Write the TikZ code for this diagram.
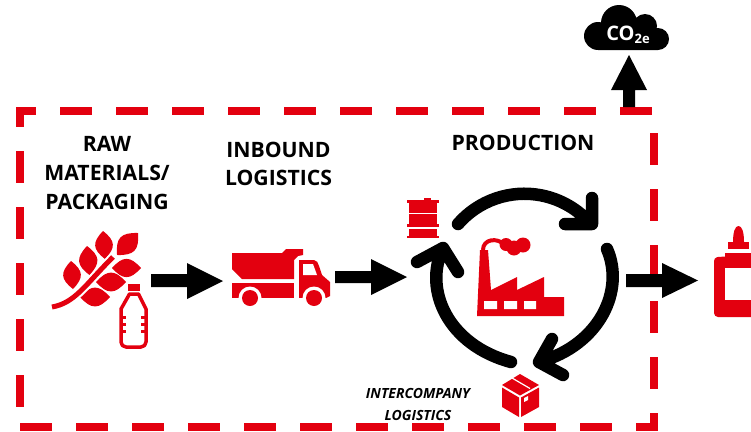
\documentclass[tikz,border=0pt]{standalone}
\usepackage{fontspec}
\setmainfont{Open Sans}
\definecolor{brand}{HTML}{E3000F}
\tikzset{
  frameline/.style={draw=brand,line width=8pt,dash pattern=on 32pt off 24pt},
  headline/.style={font=\fontsize{21.2}{24}\selectfont\bfseries,align=center,text=black,inner sep=0pt},
  subline/.style={font=\fontsize{14}{22}\selectfont\bfseries\itshape,align=center,text=black,inner sep=0pt},
  cyclearrow/.style={draw=black,line width=12.5pt,line cap=round,line join=round},
}
\newcommand{\leafshape}[2]{\fill[brand] (#1) to[bend left=48,looseness=1.45] (#2) to[bend left=48,looseness=1.45] (#1);}
\begin{document}
\begin{tikzpicture}[x=1pt,y=-1pt]
\useasboundingbox (0,0) rectangle (751,431);
% frame
\draw[frameline,dash phase=12pt] (16,111) -- (652,111);
\draw[frameline,dash phase=12pt] (20,107) -- (20,407);
\draw[frameline] (20,427) -- (658,427);
\draw[frameline] (654,133) -- (654,431);
% block arrows
\fill[black] (151,274) -- (187,274) -- (187,263) -- (223,281) -- (187,299) -- (187,287) -- (151,287) -- cycle;
\fill[black] (335,271) -- (371,271) -- (371,259) -- (407,277) -- (371,295) -- (371,283) -- (335,283) -- cycle;
\fill[black] (626,274) -- (662,274) -- (662,263) -- (698,280.5) -- (662,298) -- (662,287) -- (626,287) -- cycle;
\fill[black] (623,107) -- (623,90) -- (611,90) -- (629,55) -- (647,90) -- (635,90) -- (635,107) -- cycle;
% cloud
\fill[black] (598,36) circle[radius=14pt] (619,23) circle[radius=18pt] (645,26) circle[radius=12pt] (658,39) circle[radius=11pt] (598,30) rectangle (658,50);
\node[inner sep=0pt,text=white] (co2) at (628,35) {\fontsize{20}{22}\selectfont\bfseries CO\raisebox{-3.5pt}{\fontsize{13}{14}\selectfont 2e}};
% labels
\node[headline] (raw) at (107,173) {RAW\\[5pt]MATERIALS/\\[5pt]PACKAGING};
\node[headline] (inbound) at (278.5,164) {INBOUND\\[4pt]LOGISTICS};
\node[headline] (production) at (523,143) {PRODUCTION};
\node[subline] (inter) at (418,404.5) {INTERCOMPANY\\LOGISTICS};
% wheat
\leafshape{71,261}{73,289}
\leafshape{87,246}{89.5,275}
\leafshape{103,231}{105,259}
\leafshape{117,255}{138,233}
\leafshape{112,268}{141,268}
\leafshape{96,282}{126,282}
\leafshape{80,297}{110,297}
\draw[white,line width=9pt] (60,304) .. controls (78,299) and (88,282) .. (116,254);
\draw[brand,line width=5pt] (52,307) .. controls (75,303) and (85,285) .. (113,257);
% plastic bottle
\fill[brand] (128,284) rectangle (140,291);
\draw[brand,line width=3.5pt,line join=round,fill=white] (129.5,294) -- (138.5,294) -- (146,309) -- (146,342) arc[start angle=0,end angle=-90,radius=5pt] -- (126,347) arc[start angle=270,end angle=180,radius=5pt] -- (121,309) -- cycle;
\foreach \yy in {317,324,331}{\draw[brand,line width=3pt] (121,\yy) -- (126,\yy) (141,\yy) -- (146,\yy);}
% truck
\fill[brand] (232,253) -- (282,253) -- (286,249) -- (303,249) -- (303,255) -- (298,256) -- (294,260) -- (294,279) -- (242,279) -- (232,269) -- cycle;
\fill[brand] (232,283) rectangle (294,298);
\fill[brand] (299,260) -- (314,260) .. controls (317,260) and (318,263) .. (319,266) -- (322,275) -- (330,282) -- (330,296) -- (326,298) -- (299,298) -- cycle;
\fill[white] (303,264) -- (313,264) -- (317,275) -- (303,275) -- cycle;
\fill[white] (250,298) circle[radius=11.5pt] (314,298) circle[radius=11.5pt];
\fill[white] (232,298) rectangle (340,305);
\fill[brand] (250,298) circle[radius=8pt] (314,298) circle[radius=8pt];
% barrel
\fill[brand] (424,198) rectangle (431,201);
\fill[brand] (407,200) rectangle (439,203);
\fill[brand] (409,203) rectangle (437,212.5);
\fill[brand] (409,213.8) rectangle (437,224);
\fill[brand] (407,224) rectangle (439,226.5);
\fill[brand] (409,228.5) rectangle (437,236);
\fill[brand] (407,236) rectangle (439,238);
% cycle arrows
\draw[cyclearrow] (458,224) arc[start angle=139,end angle=41,radius=88pt] -- (592,224) (592,198) -- (592,224) -- (565,224);
\draw[cyclearrow] (607,249) .. controls (625,290) and (600,345) .. (539,362) (552,339) -- (539,362) -- (563,375);
\draw[cyclearrow] (511,362) .. controls (448,345) and (423,290) .. (443,248) (458,272) -- (443,248) -- (417,262);
% factory
\fill[brand] (477,316) -- (480,250) -- (488,250) -- (491,290) -- (517,277) -- (517,290) -- (544,277) -- (544,297) -- (564,297) -- (564,316) -- cycle;
\fill[white] (484,301) rectangle (497,309) (504,301) rectangle (517,309) (524,301) rectangle (536,309);
\fill[brand] (506,244.5) circle[radius=6.5pt] (523,245) circle[radius=7.5pt] (514,248) circle[radius=7.5pt];
\draw[brand,line width=4pt] (483,250) .. controls (483,239) and (497,237) .. (505,245);
% box
\fill[brand] (520,374) -- (539,385) -- (520,395.5) -- (502,385) -- cycle;
\fill[brand] (502,387.5) -- (519,397.5) -- (519,417) -- (502,407) -- cycle;
\fill[brand] (539,387.5) -- (521,397.5) -- (521,417) -- (539,407) -- cycle;
\draw[white,line width=1.2pt] (512,378) -- (530,388.5);
\fill[white] (524,398) -- (528,396) -- (528,400) -- (524,402) -- cycle;
% glue bottle
\fill[brand] (733,242) .. controls (733,232) and (735,226) .. (738.5,226) .. controls (742,226) and (744,232) .. (744,242) -- cycle;
\fill[brand] (728,242) rectangle (749,249);
\fill[brand] (725,253) -- (751,253) -- (751,317) -- (718,317) arc[start angle=270,end angle=180,radius=4pt] -- (714,261) arc[start angle=180,end angle=100,radius=4pt] -- (725,256.5) -- cycle;
\fill[white] (725,268) rectangle (751,300);
\end{tikzpicture}
\end{document}
